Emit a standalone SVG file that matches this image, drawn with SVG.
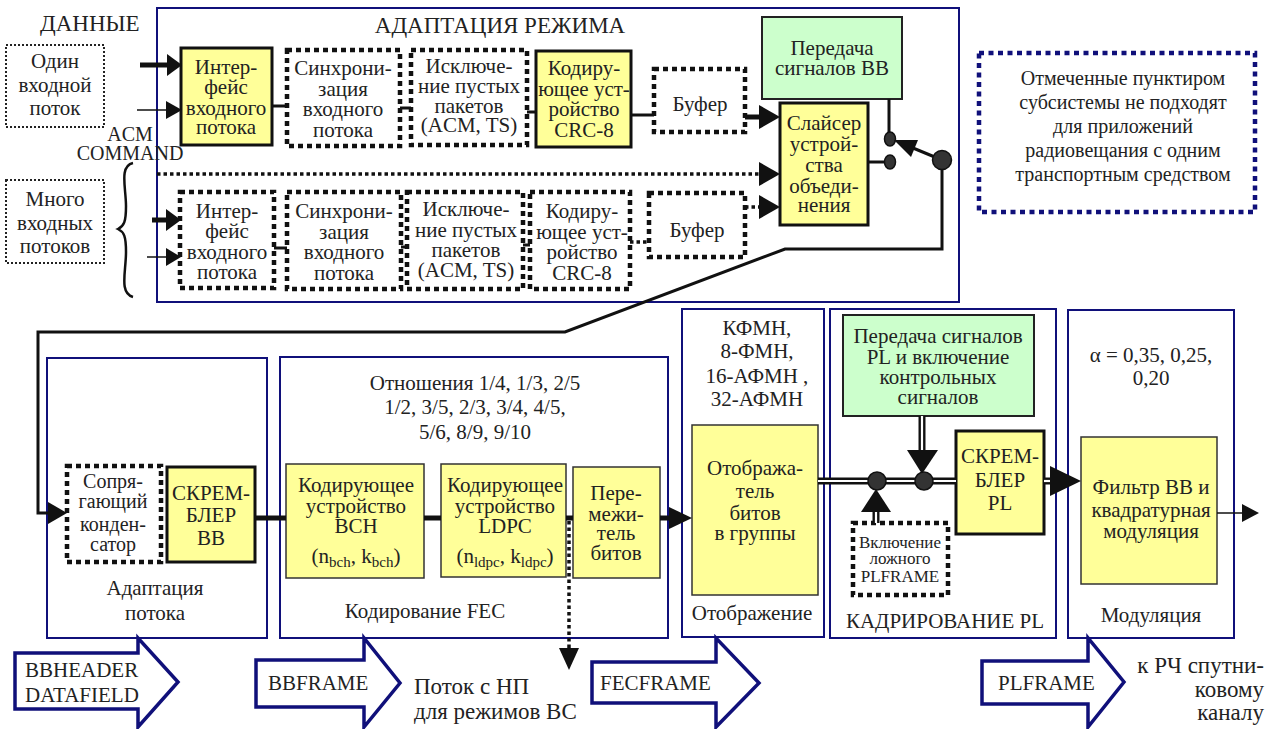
<svg xmlns="http://www.w3.org/2000/svg" width="1274" height="729" viewBox="0 0 1274 729">
<style>
text{font-family:"Liberation Serif","Times New Roman",serif;font-size:21px;fill:#222;text-anchor:middle}
.s17{font-size:17px}
.s20{font-size:20px}
.s23{font-size:23px}
.st{text-anchor:start}
.en{text-anchor:end}
.frame{fill:#fff;stroke:#10107a;stroke-width:2}
.yk{fill:#ffff99;stroke:#111;stroke-width:3}
.yt{fill:#ffff99;stroke:#333;stroke-width:1.5}
.g{fill:#ccffcc;stroke:#222;stroke-width:2}
.dt{fill:#fff;stroke:#111;stroke-width:4.5;stroke-dasharray:5 4}
.dtb{fill:#fff;stroke:#10107a;stroke-width:4.5;stroke-dasharray:5 4.5}
.ln{stroke:#111;stroke-width:3;fill:none}
.lnt{stroke:#111;stroke-width:1.5;fill:none}
.lnk{stroke:#111;stroke-width:5;fill:none}
.ldot{stroke:#111;stroke-width:3.5;fill:none;stroke-dasharray:3.5 3}
.dbl1{stroke:#111;stroke-width:7;fill:none}
.dbl2{stroke:#fff;stroke-width:2.2;fill:none}
.ah{fill:#111}
.bd{fill:#333;stroke:#111;stroke-width:1.5}
.barrow{fill:#fff;stroke:#10107a;stroke-width:3.5;stroke-linejoin:miter}
</style>
<rect width="1274" height="729" fill="#fff"/>

<!-- frames -->
<g id="frame-mode-adaptation">
<rect class="frame" x="157" y="8" width="802" height="294"/>
<text class="s23" x="500" y="33">АДАПТАЦИЯ РЕЖИМА</text>
</g>
<g id="frame-stream-adaptation">
<rect class="frame" x="47" y="358" width="220" height="280"/>
<text x="155" y="595">Адаптация</text>
<text x="155" y="620">потока</text>
</g>
<g id="frame-fec">
<rect class="frame" x="280" y="357" width="388" height="281"/>
<text x="475" y="390">Отношения 1/4, 1/3, 2/5</text>
<text x="475" y="414">1/2, 3/5, 2/3, 3/4, 4/5,</text>
<text x="475" y="439">5/6, 8/9, 9/10</text>
<text x="425" y="618">Кодирование FEC</text>
</g>
<g id="frame-mapping">
<rect class="frame" x="682" y="309" width="142" height="328"/>
<text x="757" y="335">КФМН,</text>
<text x="757" y="358">8-ФМН,</text>
<text x="757" y="383">16-АФМН ,</text>
<text x="757" y="406">32-АФМН</text>
<text x="752" y="620">Отображение</text>
</g>
<g id="frame-pl-framing">
<rect class="frame" x="830" y="309" width="226" height="329"/>
<text x="945" y="628">КАДРИРОВАНИЕ PL</text>
</g>
<g id="frame-modulation">
<rect class="frame" x="1068" y="310" width="166" height="328"/>
<text x="1151" y="362">α = 0,35, 0,25,</text>
<text x="1151" y="385">0,20</text>
<text x="1151" y="622">Модуляция</text>
</g>

<!-- labels -->
<g id="label-data"><text class="s23 st" x="40" y="31">ДАННЫЕ</text></g>
<g id="label-acm"><text class="s20" x="130" y="141">ACM</text><text class="s20" x="130" y="160">COMMAND</text></g>
<g id="single-input">
<rect x="6" y="45" width="98" height="82" fill="#fff" stroke="#222" stroke-width="2" stroke-dasharray="2 2"/>
<text x="55" y="68">Один</text><text x="55" y="92">входной</text><text x="55" y="115">поток</text>
</g>
<g id="multi-input">
<rect x="6" y="180" width="98" height="83" fill="#fff" stroke="#222" stroke-width="2" stroke-dasharray="2 2"/>
<text x="55" y="206">Много</text><text x="55" y="230">входных</text><text x="55" y="253">потоков</text>
</g>
<g id="brace"><path d="M133,163 C119,166 126,188 126,206 C126,222 124,226 118,229 C124,232 126,236 126,252 C126,272 119,293 133,297" fill="none" stroke="#111" stroke-width="2.5"/></g>

<!-- top row -->
<g id="if1"><rect class="yk" x="181" y="48" width="91" height="97"/>
<text x="226" y="74">Интер-</text><text x="226" y="94">фейс</text><text x="226" y="115">входного</text><text x="226" y="134">потока</text></g>
<g id="sync1"><rect class="dt" x="287" y="50" width="113" height="96"/>
<text x="343" y="75">Синхрони-</text><text x="343" y="96">зация</text><text x="343" y="116">входного</text><text x="343" y="137">потока</text></g>
<g id="npd1"><rect class="dt" x="411" y="50" width="116" height="95"/>
<text x="469" y="73">Исключе-</text><text x="469" y="93">ние пустых</text><text x="469" y="113">пакетов</text><text x="469" y="132">(ACM, TS)</text></g>
<g id="crc1"><rect class="yk" x="536" y="51" width="95" height="96"/>
<text x="584" y="75">Кодиру-</text><text x="584" y="96">ющее уст-</text><text x="584" y="116">ройство</text><text x="584" y="137">CRC-8</text></g>
<g id="buf1"><rect class="dt" x="654" y="69" width="91" height="63"/><text x="700" y="111">Буфер</text></g>
<g id="bb-signalling"><rect class="g" x="762" y="17" width="140" height="82"/>
<text x="832" y="55">Передача</text><text x="832" y="75">сигналов ВВ</text></g>
<g id="merger"><rect class="yk" x="780" y="103" width="88" height="122"/>
<text x="824" y="130">Слайсер</text><text x="824" y="151">устрой-</text><text x="824" y="172">ства</text><text x="824" y="193">объеди-</text><text x="824" y="212">нения</text></g>
<g id="note"><rect class="dtb" x="979" y="53" width="276" height="159"/>
<text class="s20" x="1123" y="85">Отмеченные пунктиром</text>
<text class="s20" x="1123" y="109">субсистемы не подходят</text>
<text class="s20" x="1123" y="133">для приложений</text>
<text class="s20" x="1123" y="157">радиовещания с одним</text>
<text class="s20" x="1123" y="181">транспортным средством</text></g>

<!-- lower row (multiple streams) -->
<g id="if2"><rect class="dt" x="180" y="192" width="94" height="96"/>
<text x="227" y="218">Интер-</text><text x="227" y="238">фейс</text><text x="227" y="259">входного</text><text x="227" y="279">потока</text></g>
<g id="sync2"><rect class="dt" x="287" y="192" width="114" height="97"/>
<text x="344" y="218">Синхрони-</text><text x="344" y="239">зация</text><text x="344" y="259">входного</text><text x="344" y="280">потока</text></g>
<g id="npd2"><rect class="dt" x="407" y="192" width="116" height="97"/>
<text x="466" y="216">Исключе-</text><text x="466" y="237">ние пустых</text><text x="466" y="257">пакетов</text><text x="466" y="277">(ACM, TS)</text></g>
<g id="crc2"><rect class="dt" x="530" y="192" width="100" height="97"/>
<text x="582" y="218">Кодиру-</text><text x="582" y="239">ющее уст-</text><text x="582" y="259">ройство</text><text x="582" y="280">CRC-8</text></g>
<g id="buf2"><rect class="dt" x="649" y="193" width="96" height="64"/><text x="697" y="237">Буфер</text></g>

<!-- bottom row -->
<g id="padder"><rect class="dt" x="67" y="466" width="94" height="96"/>
<text class="s20" x="113" y="488">Сопря-</text><text class="s20" x="113" y="508">гающий</text><text class="s20" x="113" y="531">конден-</text><text class="s20" x="113" y="551">сатор</text></g>
<g id="bb-scrambler"><rect class="yk" x="167" y="467" width="88" height="95"/>
<text x="211" y="500">СКРЕМ-</text><text x="211" y="522">БЛЕР</text><text x="211" y="545">ВВ</text></g>
<g id="bch"><rect class="yt" x="286" y="464" width="138" height="114"/>
<text x="356" y="492">Кодирующее</text><text x="356" y="513">устройство</text><text x="356" y="533">BCH</text>
<text x="356" y="563">(n<tspan font-size="15" dy="4">bch</tspan><tspan dy="-4">, k</tspan><tspan font-size="15" dy="4">bch</tspan><tspan dy="-4">)</tspan></text></g>
<g id="ldpc"><rect class="yt" x="441" y="464" width="125" height="113"/>
<text x="505" y="492">Кодирующее</text><text x="505" y="513">устройство</text><text x="505" y="533">LDPC</text>
<text x="505" y="563">(n<tspan font-size="15" dy="4">ldpc</tspan><tspan dy="-4">, k</tspan><tspan font-size="15" dy="4">ldpc</tspan><tspan dy="-4">)</tspan></text></g>
<g id="interleaver"><rect class="yt" x="573" y="467" width="87" height="111"/>
<text x="616" y="500">Пере-</text><text x="616" y="521">межи-</text><text x="616" y="540">тель</text><text x="616" y="560">битов</text></g>
<g id="mapper"><rect class="yt" x="692" y="425" width="126" height="170"/>
<text x="755" y="475">Отобража-</text><text x="755" y="498">тель</text><text x="755" y="520">битов</text><text x="755" y="540">в группы</text></g>
<g id="pl-signalling"><rect class="g" x="843" y="315" width="191" height="101"/>
<text x="938" y="343">Передача сигналов</text><text x="938" y="364">PL и включение</text><text x="938" y="384">контрольных</text><text x="938" y="404">сигналов</text></g>
<g id="dummy-plframe"><rect class="dt" x="853" y="523" width="95" height="72"/>
<text class="s17" x="900" y="548">Включение</text><text class="s17" x="900" y="564">ложного</text><text class="s17" x="900" y="582">PLFRAME</text></g>
<g id="pl-scrambler"><rect class="yk" x="956" y="431" width="88" height="103"/>
<text x="1000" y="463">СКРЕМ-</text><text x="1000" y="487">БЛЕР</text><text x="1000" y="510">PL</text></g>
<g id="filter"><rect class="yt" x="1081" y="437" width="136" height="147"/>
<text x="1151" y="494">Фильтр ВВ и</text><text x="1151" y="517">квадратурная</text><text x="1151" y="538">модуляция</text></g>

<!-- block arrows -->
<g id="ba-bbheader"><polygon class="barrow" points="15,653 138,653 138,638 178,682 138,727 138,709 15,709"/>
<text class="st" x="25" y="677">BBHEADER</text><text class="st" x="25" y="702">DATAFIELD</text></g>
<g id="ba-bbframe"><polygon class="barrow" points="256,660 364,660 364,638 400,683 364,727 364,707 256,707"/>
<text class="st" x="268" y="690">BBFRAME</text></g>
<g id="label-ts"><text class="st s23" x="414" y="694">Поток с НП</text><text class="st s23" x="414" y="719">для режимов ВС</text></g>
<g id="ba-fecframe"><polygon class="barrow" points="592,662 716,662 716,638 759,683 716,727 716,703 592,703"/>
<text class="st" x="600" y="690">FECFRAME</text></g>
<g id="ba-plframe"><polygon class="barrow" points="982,661 1088,661 1088,638 1124,682 1088,727 1088,704 982,704"/>
<text class="st" x="998" y="690">PLFRAME</text></g>
<g id="label-rf"><text class="en s23" x="1264" y="673">к РЧ спутни-</text><text class="en s23" x="1264" y="697">ковому</text><text class="en s23" x="1264" y="720">каналу</text></g>

<!-- connectors -->
<g id="connectors">
<!-- inputs top -->
<line class="lnk" x1="140" y1="65" x2="168" y2="65"/><polygon class="ah" points="167,54 182,65 167,76"/>
<line class="lnt" x1="137" y1="110" x2="168" y2="110"/><polygon class="ah" points="166,101 182,110 166,119"/>
<!-- inputs bottom -->
<line class="lnk" x1="152" y1="220" x2="168" y2="220"/><polygon class="ah" points="166,209 181,220 166,231"/>
<line class="lnt" x1="147" y1="257" x2="168" y2="257"/><polygon class="ah" points="166,248 181,257 166,266"/>
<!-- top chain -->
<line class="ln" x1="272" y1="106" x2="287" y2="106"/>
<line class="ln" x1="400" y1="108" x2="411" y2="108"/>
<line class="ln" x1="527" y1="112" x2="536" y2="112"/>
<line class="ln" x1="631" y1="115" x2="654" y2="115"/>
<line class="lnk" x1="745" y1="117" x2="762" y2="117"/><polygon class="ah" points="759,105 780,117 759,129"/>
<!-- lower chain -->
<line class="ln" x1="274" y1="248" x2="287" y2="248"/>
<line class="ln" x1="401" y1="247" x2="407" y2="247"/>
<line class="ln" x1="523" y1="245" x2="530" y2="245"/>
<line class="ldot" x1="630" y1="242" x2="649" y2="242"/>
<line class="ldot" x1="745" y1="207" x2="762" y2="207"/><polygon class="ah" points="759,195 780,207 759,219"/>
<!-- ACM dotted line -->
<line class="ldot" x1="157" y1="174" x2="762" y2="174"/><polygon class="ah" points="759,162 780,174 759,186"/>
<!-- switch -->
<line class="ln" x1="889" y1="99" x2="889" y2="135"/>
<line class="ln" x1="868" y1="162" x2="886" y2="162"/>
<ellipse class="bd" cx="890" cy="139" rx="5.5" ry="7"/>
<ellipse class="bd" cx="890" cy="162" rx="5.5" ry="7"/>
<line class="ln" x1="942" y1="160" x2="913" y2="148"/>
<polygon class="ah" points="894,140 918,140 911,157"/>
<circle class="bd" cx="942" cy="160" r="9.5"/>
<!-- loop to padder -->
<polyline class="ln" points="942,169 942,249 785,249 565,332 38,332 38,513 50,513"/>
<polygon class="ah" points="48,502 67,513 48,524"/>
<!-- bottom chain -->
<line class="lnk" x1="255" y1="518" x2="286" y2="518"/>
<line class="lnk" x1="424" y1="518" x2="441" y2="518"/>
<line class="lnk" x1="566" y1="518" x2="573" y2="518"/>
<line class="lnk" x1="660" y1="518" x2="671" y2="518"/><polygon class="ah" points="669,507 692,518 669,529"/>
<line class="ldot" x1="569" y1="521" x2="569" y2="650"/><polygon class="ah" points="559,648 579,648 569,670"/>
<!-- PL framing double lines -->
<line class="dbl1" x1="818" y1="481" x2="956" y2="481"/><line class="dbl2" x1="818" y1="481" x2="956" y2="481"/>
<line class="dbl1" x1="922" y1="416" x2="922" y2="452"/><line class="dbl2" x1="922" y1="416" x2="922" y2="452"/>
<polygon class="ah" points="907,450 938,450 922,474"/>
<line class="dbl1" x1="876" y1="523" x2="876" y2="510"/><line class="dbl2" x1="876" y1="523" x2="876" y2="510"/>
<polygon class="ah" points="861,512 891,512 876,489"/>
<circle class="bd" cx="877" cy="481" r="9"/>
<circle class="bd" cx="924" cy="481" r="9"/>
<line class="dbl1" x1="1044" y1="481" x2="1053" y2="481"/><line class="dbl2" x1="1044" y1="481" x2="1053" y2="481"/>
<polygon class="ah" points="1050,466 1081,481 1050,496"/>
<line class="lnt" x1="1217" y1="513" x2="1244" y2="513"/><polygon class="ah" points="1242,504 1259,513 1242,522"/>
</g>
</svg>
